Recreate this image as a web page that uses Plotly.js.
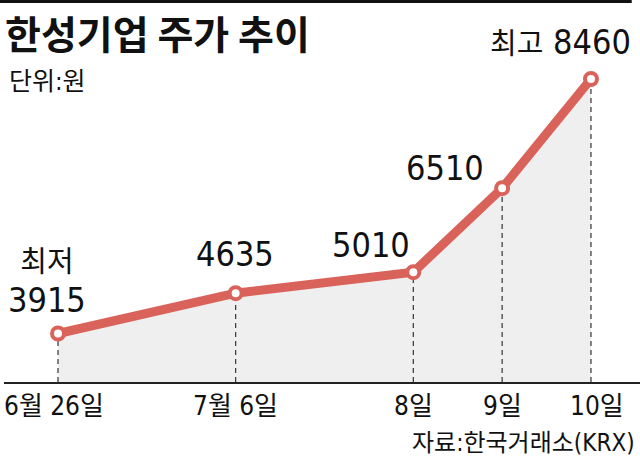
<!DOCTYPE html>
<html>
<head>
<meta charset="utf-8">
<script src="https://cdn.plot.ly/plotly-3.0.1.min.js"></script>
<style>html,body{margin:0;padding:0;background:#fff;}#chart{width:640px;height:465px;}</style>
</head>
<body>
<div id="chart"></div>
<script>
// ---- data ----
const dates = ['6월 26일', '7월 6일', '8일', '9일', '10일'];
const prices = [3915, 4635, 5010, 6510, 8460];
const labelPrefix = ['최저', '', '', '', '최고'];
const titleText = '한성기업 주가 추이';
const unitText = '단위:원';
const sourceText = '자료:한국거래소(KRX)';

// ---- layout helpers ----
const RED = '#d9635a';
const FONT = '"DejaVu Sans Condensed", Roboto, "Noto Sans CJK KR", sans-serif';
const yMin = 3049, yMax = 8799;
// category order with spacers to reproduce the uneven spacing
const catOrder = [dates[0], ' ', dates[1], '  ', dates[2], dates[3], dates[4]];

const traces = [];
// grey area under the line
traces.push({
  x: dates, y: prices, type: 'scatter', mode: 'none',
  fill: 'tozeroy', fillcolor: '#efefef', hoverinfo: 'skip', showlegend: false
});
// dashed droplines
dates.forEach((d, i) => {
  traces.push({
    x: [d, d], y: [yMin, prices[i]], type: 'scatter', mode: 'lines',
    line: {color: '#333', width: 1.2, dash: '5px,4px'},
    hoverinfo: 'skip', showlegend: false
  });
});
// main line
traces.push({
  x: dates, y: prices, type: 'scatter', mode: 'lines+markers',
  line: {color: RED, width: 9},
  marker: {size: 12, color: '#fff', line: {color: RED, width: 4}},
  showlegend: false
});

// value label offsets (px)
const offs = [
  {xs: -11, ys: 51, xa: 'center'},
  {xs: -1, ys: 39, xa: 'center'},
  {xs: -42, ys: 27, xa: 'center'},
  {xs: -57, ys: 20, xa: 'center'},
  {xs: 42, ys: 37, xa: 'right'}
];
const NUM = 34, KOR = 29;
const annotations = [];
prices.forEach((v, i) => {
  const o = offs[i];
  let txt = String(v);
  let base = NUM;
  if (i === 0 && labelPrefix[i]) {
    txt = '<span style="font-size:' + KOR + 'px">' + labelPrefix[i] +
      '</span><br><span style="font-size:' + NUM + 'px">' + v + '</span>';
    base = 31;
  } else if (labelPrefix[i]) {
    txt = '<span style="font-size:' + KOR + 'px">' + labelPrefix[i] + '</span> ' + v;
  }
  annotations.push({
    x: dates[i], y: v, xref: 'x', yref: 'y', text: txt, showarrow: false,
    xanchor: o.xa, yanchor: 'middle', xshift: o.xs, yshift: o.ys,
    font: {family: FONT, size: base, color: '#111'}
  });
});

// x labels
dates.forEach((d, i) => {
  annotations.push({
    x: d, y: 0, xref: 'x', yref: 'paper', text: d, showarrow: false,
    xanchor: 'center', yanchor: 'top', yshift: -7, xshift: i === 0 ? -4 : (i === 4 ? 6 : 0),
    font: {family: FONT, size: 26, color: '#111'}
  });
});
// unit + source
annotations.push({
  x: 0.0047, y: 0.933, xref: 'paper', yref: 'paper', text: unitText, showarrow: false,
  xanchor: 'left', yanchor: 'middle', font: {family: FONT, size: 25, color: '#111'}
});
annotations.push({
  x: 0.996, y: -0.189, xref: 'paper', yref: 'paper', text: sourceText, showarrow: false,
  xanchor: 'right', yanchor: 'middle', xshift: 0, font: {family: FONT, size: 24, color: '#111'}
});

const layout = {
  width: 640, height: 465,
  margin: {l: 4, r: 0, t: 60, b: 83, pad: 0},
  paper_bgcolor: '#fff', plot_bgcolor: '#fff',
  title: {
    text: '<b>' + titleText + '</b>', x: 0.008, xref: 'container', xanchor: 'left',
    y: 0.925, yref: 'container', yanchor: 'middle',
    font: {family: '"Noto Sans CJK KR", sans-serif', size: 39, color: '#111'}
  },
  xaxis: {
    type: 'category', categoryorder: 'array', categoryarray: catOrder,
    range: [-0.608, 6.552], showgrid: false, zeroline: false,
    showline: true, linecolor: '#222', linewidth: 1.5,
    ticks: '', showticklabels: false, fixedrange: true
  },
  yaxis: {
    range: [yMin, yMax], showgrid: false, zeroline: false, showline: false,
    showticklabels: false, ticks: '', fixedrange: true
  },
  shapes: [{
    type: 'line', xref: 'paper', yref: 'paper', x0: -0.0063, x1: 0.987,
    y0: 1.1817, y1: 1.1817, line: {color: '#111', width: 3}
  }],
  annotations: annotations,
  showlegend: false
};

Plotly.newPlot('chart', traces, layout, {displayModeBar: false, staticPlot: true});
</script>
</body>
</html>
